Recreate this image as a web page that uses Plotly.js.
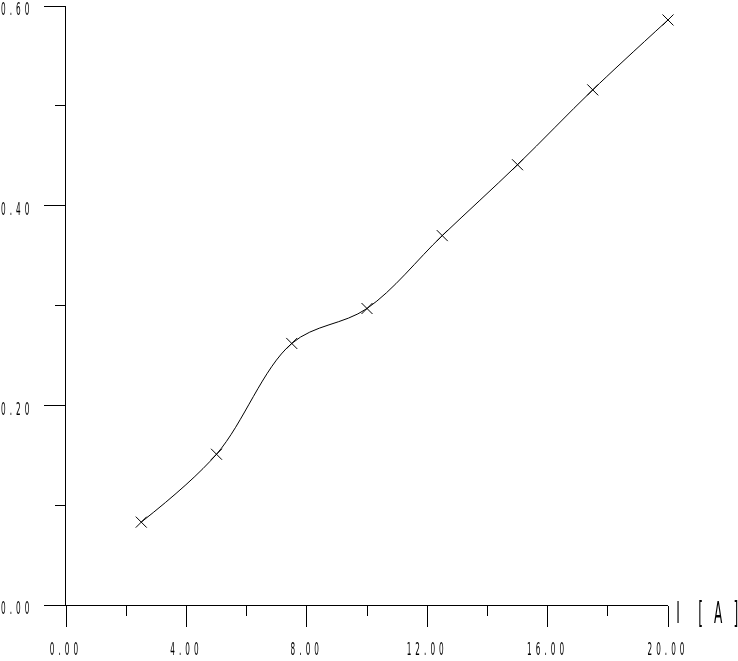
<!DOCTYPE html>
<html><head><meta charset="utf-8">
<script src="https://cdn.plot.ly/plotly-3.0.1.min.js"></script>
<style>
html,body{margin:0;padding:0;background:#fff;}
#chart{width:738px;height:661px;filter:grayscale(1);}
.xtick text,.ytick text{letter-spacing:9px;}
.annotation-text{letter-spacing:8px;}
</style>
</head><body>
<div id="chart"></div>
<script>
const currentA = [2.5, 5, 7.5, 10, 12.5, 15, 17.5, 20];
const values = [0.083, 0.151, 0.262, 0.297, 0.370, 0.441, 0.516, 0.586];
const xTickVals = [0, 4, 8, 12, 16, 20];
const xTickText = ["0.00", "4.00", "8.00", "12.00", "16.00", "20.00"];
const yTickVals = [0, 0.2, 0.4, 0.6];
const yTickText = ["0.00", "0.20", "0.40", "0.60"];
const axisLabel = "I\u00a0\u00a0[\u00a0A\u00a0]";

const font = "'DejaVu Sans Condensed', 'DejaVu Sans', sans-serif";

function squeeze(sel, s, anchor, dx, dy) {
  document.querySelectorAll(sel).forEach(t => {
    const b = t.getBBox();
    const ax = anchor === 'right' ? b.x + b.width : anchor === 'left' ? b.x : b.x + b.width / 2;
    const old = t.getAttribute('transform') || '';
    t.setAttribute('transform', old + ' translate(' + (ax + (dx || 0)) + ',' + (dy || 0) + ') scale(' + s + ',1) translate(' + (-ax) + ',0)');
  });
}

Plotly.newPlot('chart', [{
  x: currentA, y: values, type: 'scatter', mode: 'lines+markers',
  line: {color: '#000', width: 1, shape: 'spline', smoothing: 1},
  marker: {symbol: 'x-thin-open', size: 11, color: '#000', line: {color: '#000', width: 1}},
  cliponaxis: false, showlegend: false
}], {
  width: 738, height: 661,
  margin: {l: 66, r: 70, t: 6, b: 56},
  paper_bgcolor: '#fff', plot_bgcolor: '#fff',
  font: {family: font, color: '#000', size: 18},
  xaxis: {
    range: [0, 20], showgrid: false, zeroline: false,
    showline: true, linecolor: '#000', linewidth: 1,
    tickmode: 'array', tickvals: xTickVals, ticktext: xTickText,
    ticks: 'outside', ticklen: 21, tickwidth: 1, tickcolor: '#000',
    minor: {tickmode: 'linear', tick0: 0, dtick: 2, ticks: 'outside', ticklen: 10, tickwidth: 1, tickcolor: '#000', showgrid: false},
    ticklabelstandoff: 6, ticklabeloverflow: 'allow',
    tickfont: {family: font, size: 18, color: '#000'}
  },
  yaxis: {
    range: [0, 0.6], showgrid: false, zeroline: false,
    showline: true, linecolor: '#000', linewidth: 1,
    tickmode: 'array', tickvals: yTickVals, ticktext: yTickText,
    ticks: 'outside', ticklen: 21, tickwidth: 1, tickcolor: '#000',
    minor: {tickmode: 'linear', tick0: 0, dtick: 0.1, ticks: 'outside', ticklen: 10, tickwidth: 1, tickcolor: '#000', showgrid: false},
    ticklabelstandoff: 7, ticklabeloverflow: 'allow',
    tickfont: {family: font, size: 18, color: '#000'}
  },
  annotations: [{
    text: axisLabel, xref: 'paper', yref: 'paper', x: 1.1262, y: 0,
    xanchor: 'right', yanchor: 'middle', yshift: -7, showarrow: false,
    font: {family: font, size: 30, color: '#000'}
  }]
}, {staticPlot: true}).then(() => {
  squeeze('.xtick text', 0.45, 'middle', 0, 0);
  squeeze('.ytick text', 0.45, 'right', 0, 3);
  squeeze('.annotation-text', 0.45, 'right', 0, 0);
});
</script>
</body></html>
